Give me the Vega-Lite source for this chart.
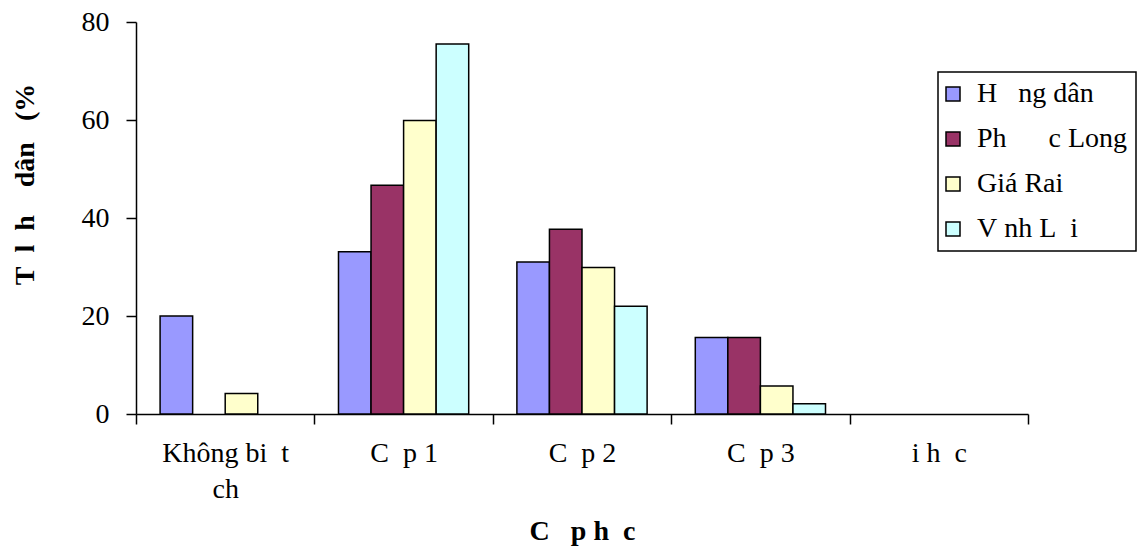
{
  "$schema": "https://vega.github.io/schema/vega-lite/v6.json",
  "autosize": {"type": "none"},
  "padding": {"left": 136, "top": 22, "right": 114, "bottom": 138},
  "width": 892,
  "height": 392,
  "background": "white",
  "config": {
    "view": {"stroke": null},
    "font": "Liberation Serif"
  },
  "data": {
    "values": [
      {"cap": "Không bi\u00a0\u00a0t\nch", "vung": "H\u00a0\u00a0\u00a0ng dân", "tyle": 20.0},
      {"cap": "Không bi\u00a0\u00a0t\nch", "vung": "Ph\u00a0\u00a0\u00a0\u00a0\u00a0\u00a0c Long", "tyle": 0},
      {"cap": "Không bi\u00a0\u00a0t\nch", "vung": "Giá Rai", "tyle": 4.2},
      {"cap": "Không bi\u00a0\u00a0t\nch", "vung": "V\u00a0nh L\u00a0\u00a0i", "tyle": 0},
      {"cap": "C\u00a0\u00a0p 1", "vung": "H\u00a0\u00a0\u00a0ng dân", "tyle": 33.1},
      {"cap": "C\u00a0\u00a0p 1", "vung": "Ph\u00a0\u00a0\u00a0\u00a0\u00a0\u00a0c Long", "tyle": 46.7},
      {"cap": "C\u00a0\u00a0p 1", "vung": "Giá Rai", "tyle": 59.9},
      {"cap": "C\u00a0\u00a0p 1", "vung": "V\u00a0nh L\u00a0\u00a0i", "tyle": 75.5},
      {"cap": "C\u00a0\u00a0p 2", "vung": "H\u00a0\u00a0\u00a0ng dân", "tyle": 31.0},
      {"cap": "C\u00a0\u00a0p 2", "vung": "Ph\u00a0\u00a0\u00a0\u00a0\u00a0\u00a0c Long", "tyle": 37.7},
      {"cap": "C\u00a0\u00a0p 2", "vung": "Giá Rai", "tyle": 29.9},
      {"cap": "C\u00a0\u00a0p 2", "vung": "V\u00a0nh L\u00a0\u00a0i", "tyle": 22.0},
      {"cap": "C\u00a0\u00a0p 3", "vung": "H\u00a0\u00a0\u00a0ng dân", "tyle": 15.6},
      {"cap": "C\u00a0\u00a0p 3", "vung": "Ph\u00a0\u00a0\u00a0\u00a0\u00a0\u00a0c Long", "tyle": 15.6},
      {"cap": "C\u00a0\u00a0p 3", "vung": "Giá Rai", "tyle": 5.7},
      {"cap": "C\u00a0\u00a0p 3", "vung": "V\u00a0nh L\u00a0\u00a0i", "tyle": 2.1},
      {"cap": "\u00a0\u00a0i h\u00a0\u00a0c", "vung": "H\u00a0\u00a0\u00a0ng dân", "tyle": 0},
      {"cap": "\u00a0\u00a0i h\u00a0\u00a0c", "vung": "Ph\u00a0\u00a0\u00a0\u00a0\u00a0\u00a0c Long", "tyle": 0},
      {"cap": "\u00a0\u00a0i h\u00a0\u00a0c", "vung": "Giá Rai", "tyle": 0},
      {"cap": "\u00a0\u00a0i h\u00a0\u00a0c", "vung": "V\u00a0nh L\u00a0\u00a0i", "tyle": 0}
    ]
  },
  "transform": [{"filter": "datum.tyle > 0"}],
  "mark": {"type": "bar", "stroke": "black", "strokeWidth": 1.5, "opacity": 1},
  "encoding": {
    "x": {
      "field": "cap",
      "type": "nominal",
      "sort": null,
      "scale": {
        "domain": ["Không bi\u00a0\u00a0t\nch", "C\u00a0\u00a0p 1", "C\u00a0\u00a0p 2", "C\u00a0\u00a0p 3", "\u00a0\u00a0i h\u00a0\u00a0c"],
        "paddingInner": 0,
        "paddingOuter": 0
      },
      "axis": {
        "title": "C\u00a0\u00a0\u00a0p h\u00a0\u00a0c",
        "titleFont": "Liberation Serif",
        "titleFontSize": 28,
        "titleFontWeight": "bold",
        "titleColor": "black",
        "titlePadding": 14,
        "labelAngle": 0,
        "labelFont": "Liberation Serif",
        "labelFontSize": 28,
        "labelColor": "black",
        "labelPadding": 15,
        "labelLineHeight": 36,
        "labelExpr": "split(datum.label, '\\n')",
        "tickBand": "extent",
        "tickSize": 10,
        "tickColor": "black",
        "tickWidth": 1.5,
        "domainColor": "black",
        "domainWidth": 1.5,
        "grid": false
      }
    },
    "xOffset": {
      "field": "vung",
      "type": "nominal",
      "sort": null,
      "scale": {
        "domain": ["H\u00a0\u00a0\u00a0ng dân", "Ph\u00a0\u00a0\u00a0\u00a0\u00a0\u00a0c Long", "Giá Rai", "V\u00a0nh L\u00a0\u00a0i"],
        "paddingInner": 0,
        "paddingOuter": 0.74
      }
    },
    "y": {
      "field": "tyle",
      "type": "quantitative",
      "scale": {"domain": [0, 80], "nice": false},
      "axis": {
        "values": [0, 20, 40, 60, 80],
        "title": "T\u00a0\u00a0l\u00a0\u00a0h\u00a0\u00a0\u00a0\u00a0dân\u00a0\u00a0\u00a0(%",
        "titleFont": "Liberation Serif",
        "titleFontSize": 28,
        "titleFontWeight": "bold",
        "titleColor": "black",
        "titleAngle": -90,
        "titleAlign": "center",
        "titleBaseline": "alphabetic",
        "titleX": -103,
        "titleY": 162,
        "labelFont": "Liberation Serif",
        "labelFontSize": 28,
        "labelColor": "black",
        "labelPadding": 17,
        "tickSize": 10,
        "tickColor": "black",
        "tickWidth": 1.5,
        "domainColor": "black",
        "domainWidth": 1.5,
        "grid": false
      }
    },
    "fill": {
      "field": "vung",
      "type": "nominal",
      "sort": null,
      "scale": {
        "domain": ["H\u00a0\u00a0\u00a0ng dân", "Ph\u00a0\u00a0\u00a0\u00a0\u00a0\u00a0c Long", "Giá Rai", "V\u00a0nh L\u00a0\u00a0i"],
        "range": ["#9999FF", "#993366", "#FFFFCC", "#CCFFFF"]
      },
      "legend": {
        "title": null,
        "orient": "none",
        "legendX": 802,
        "legendY": 50,
        "padding": 8,
        "strokeColor": "black",
        "fillColor": "white",
        "symbolType": "square",
        "symbolSize": 196,
        "symbolOffset": -7,
        "symbolStrokeColor": "black",
        "symbolStrokeWidth": 1.5,
        "symbolOpacity": 1,
        "labelFont": "Liberation Serif",
        "labelFontSize": 28,
        "labelColor": "black",
        "labelOffset": 10,
        "labelLimit": 300,
        "rowPadding": 17,
        "encode": {
          "legend": {"update": {"strokeWidth": {"value": 1.5}}}
        }
      }
    }
  }
}
